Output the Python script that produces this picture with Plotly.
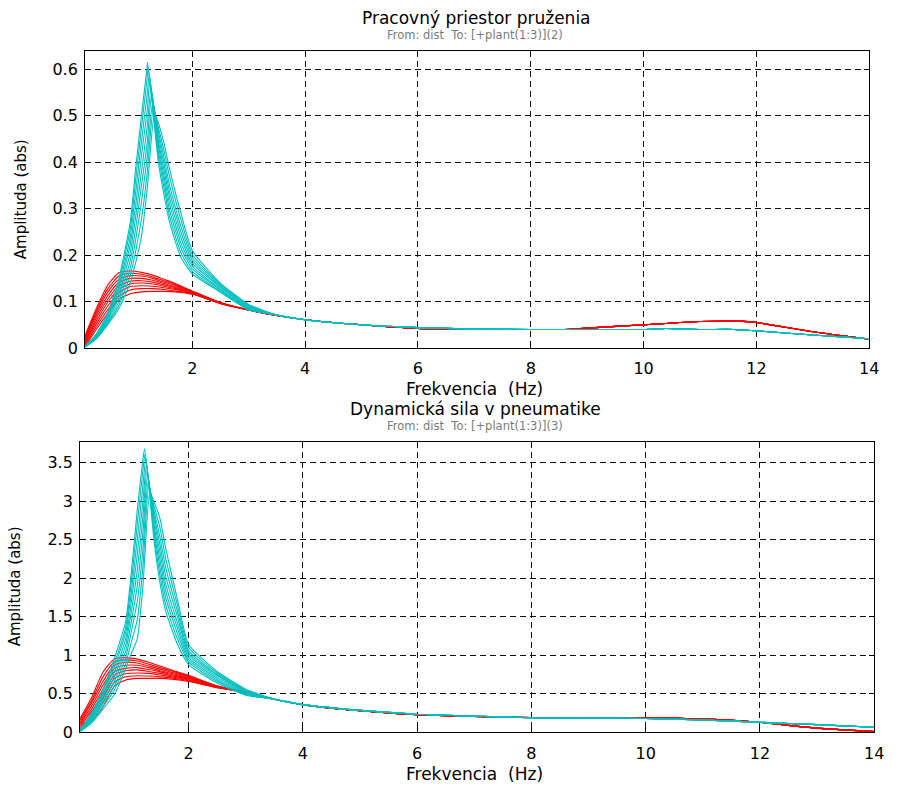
import plotly.graph_objects as go

# ---------------- frequency grids (Hz) ----------------
CYAN_HEAD_F = [0.1, 0.3, 0.5, 0.7, 0.9, 1.0, 1.1, 1.2]
CYAN_RIGHT_F = [1.4, 1.5, 1.6, 1.8, 2.0, 2.5, 3.0]
RED_HEAD_F = [0.1, 0.3, 0.5, 0.7, 0.9, 1.1, 1.3, 1.5, 1.7, 2.0, 2.5]

# ---------------- top panel: suspension working space ----------------
TOP_CYAN_PEAK_F = [1.21, 1.22, 1.24, 1.25, 1.27, 1.28, 1.30, 1.31, 1.33]
TOP_CYAN_PEAK_A = [0.615, 0.605, 0.59, 0.575, 0.56, 0.545, 0.53, 0.515, 0.505]
TOP_CYAN_HEAD = [
    [0.004, 0.030, 0.075, 0.150, 0.270, 0.390, 0.500, 0.605],
    [0.004, 0.029, 0.072, 0.142, 0.255, 0.365, 0.475, 0.580],
    [0.004, 0.028, 0.068, 0.133, 0.238, 0.338, 0.445, 0.545],
    [0.003, 0.026, 0.065, 0.125, 0.222, 0.310, 0.415, 0.510],
    [0.003, 0.025, 0.062, 0.116, 0.205, 0.285, 0.380, 0.475],
    [0.003, 0.024, 0.059, 0.108, 0.188, 0.260, 0.350, 0.440],
    [0.003, 0.023, 0.056, 0.100, 0.172, 0.235, 0.315, 0.410],
    [0.002, 0.021, 0.053, 0.092, 0.156, 0.210, 0.278, 0.375],
    [0.002, 0.020, 0.050, 0.085, 0.140, 0.185, 0.240, 0.340],
]
TOP_CYAN_RIGHT = [
    [0.400, 0.330, 0.270, 0.195, 0.160, 0.120, 0.082],
    [0.412, 0.345, 0.283, 0.205, 0.165, 0.122, 0.083],
    [0.425, 0.358, 0.296, 0.216, 0.171, 0.125, 0.085],
    [0.437, 0.370, 0.310, 0.226, 0.177, 0.127, 0.086],
    [0.447, 0.383, 0.323, 0.238, 0.183, 0.130, 0.088],
    [0.457, 0.396, 0.336, 0.250, 0.189, 0.132, 0.089],
    [0.466, 0.410, 0.350, 0.262, 0.195, 0.135, 0.091],
    [0.475, 0.425, 0.368, 0.276, 0.202, 0.137, 0.092],
    [0.485, 0.440, 0.385, 0.290, 0.210, 0.140, 0.094],
]
TOP_CYAN_TAIL_F = [3.5, 4, 5, 6, 7, 8, 9, 10, 10.4, 11, 11.6, 12, 13, 14]
TOP_CYAN_TAIL = [0.071, 0.061, 0.050, 0.044, 0.041, 0.040, 0.040, 0.040,
                 0.042, 0.040, 0.040, 0.037, 0.028, 0.020]

TOP_RED_HEAD = [
    [0.027, 0.085, 0.135, 0.162, 0.166, 0.163, 0.157, 0.148, 0.139, 0.123, 0.098],
    [0.024, 0.080, 0.127, 0.155, 0.161, 0.159, 0.153, 0.145, 0.137, 0.122, 0.098],
    [0.021, 0.075, 0.120, 0.148, 0.156, 0.155, 0.150, 0.142, 0.135, 0.121, 0.097],
    [0.018, 0.070, 0.112, 0.141, 0.150, 0.150, 0.146, 0.139, 0.132, 0.120, 0.097],
    [0.015, 0.064, 0.105, 0.134, 0.144, 0.145, 0.142, 0.136, 0.130, 0.119, 0.097],
    [0.012, 0.058, 0.098, 0.127, 0.138, 0.140, 0.138, 0.133, 0.128, 0.118, 0.096],
    [0.009, 0.052, 0.090, 0.120, 0.132, 0.134, 0.133, 0.130, 0.126, 0.118, 0.096],
    [0.006, 0.046, 0.082, 0.112, 0.125, 0.128, 0.128, 0.126, 0.123, 0.117, 0.096],
    [0.003, 0.040, 0.075, 0.104, 0.117, 0.121, 0.122, 0.122, 0.121, 0.116, 0.096],
]
TOP_RED_TAIL_F = [3.0, 3.5, 4, 5, 6, 7, 8, 8.6, 9, 10, 11, 11.7, 12, 13, 14]
TOP_RED_TAIL = [0.082, 0.070, 0.061, 0.050, 0.042, 0.040, 0.040, 0.040,
                0.043, 0.050, 0.057, 0.058, 0.055, 0.035, 0.019]

# ---------------- bottom panel: dynamic tyre force ----------------
BOT_CYAN_PEAK_F = [1.23, 1.24, 1.25, 1.26, 1.27, 1.28, 1.29, 1.30, 1.32]
BOT_CYAN_PEAK_A = [3.68, 3.62, 3.55, 3.47, 3.40, 3.32, 3.25, 3.18, 3.12]
BOT_CYAN_HEAD = [
    [0.030, 0.250, 0.560, 0.960, 1.450, 2.100, 2.880, 3.550],
    [0.028, 0.235, 0.530, 0.900, 1.370, 1.970, 2.700, 3.400],
    [0.025, 0.220, 0.500, 0.840, 1.300, 1.840, 2.500, 3.200],
    [0.023, 0.200, 0.470, 0.780, 1.220, 1.710, 2.300, 3.000],
    [0.020, 0.185, 0.430, 0.720, 1.140, 1.580, 2.100, 2.800],
    [0.018, 0.170, 0.400, 0.660, 1.060, 1.450, 1.900, 2.600],
    [0.015, 0.155, 0.370, 0.600, 0.980, 1.320, 1.700, 2.380],
    [0.013, 0.140, 0.335, 0.550, 0.900, 1.180, 1.460, 2.150],
    [0.010, 0.120, 0.300, 0.490, 0.830, 1.030, 1.210, 1.900],
]
BOT_CYAN_RIGHT = [
    [2.45, 1.93, 1.57, 1.15, 0.88, 0.64, 0.48],
    [2.53, 2.03, 1.65, 1.22, 0.91, 0.66, 0.49],
    [2.60, 2.13, 1.74, 1.29, 0.94, 0.68, 0.50],
    [2.67, 2.23, 1.83, 1.36, 0.97, 0.70, 0.51],
    [2.74, 2.33, 1.92, 1.43, 1.00, 0.72, 0.52],
    [2.80, 2.43, 2.02, 1.51, 1.03, 0.74, 0.53],
    [2.86, 2.53, 2.13, 1.58, 1.06, 0.75, 0.54],
    [2.92, 2.65, 2.25, 1.66, 1.10, 0.77, 0.55],
    [2.98, 2.77, 2.38, 1.74, 1.14, 0.79, 0.56],
]
BOT_CYAN_TAIL_F = [3.5, 4, 5, 6, 7, 8, 9, 10, 11, 12, 13, 14]
BOT_CYAN_TAIL = [0.43, 0.36, 0.285, 0.235, 0.21, 0.19, 0.185, 0.18, 0.16, 0.13, 0.10, 0.065]

BOT_RED_HEAD = [
    [0.18, 0.45, 0.78, 0.95, 0.97, 0.950, 0.910, 0.860, 0.810, 0.74, 0.600],
    [0.16, 0.41, 0.72, 0.91, 0.94, 0.925, 0.885, 0.840, 0.795, 0.73, 0.600],
    [0.14, 0.38, 0.66, 0.87, 0.91, 0.900, 0.860, 0.820, 0.780, 0.72, 0.600],
    [0.12, 0.34, 0.61, 0.83, 0.87, 0.870, 0.840, 0.800, 0.765, 0.71, 0.595],
    [0.10, 0.30, 0.56, 0.79, 0.83, 0.840, 0.815, 0.785, 0.750, 0.70, 0.590],
    [0.08, 0.27, 0.50, 0.74, 0.80, 0.810, 0.790, 0.765, 0.735, 0.69, 0.590],
    [0.06, 0.23, 0.45, 0.70, 0.76, 0.770, 0.765, 0.745, 0.720, 0.68, 0.585],
    [0.04, 0.19, 0.39, 0.65, 0.72, 0.735, 0.730, 0.720, 0.705, 0.67, 0.580],
    [0.02, 0.15, 0.33, 0.60, 0.68, 0.700, 0.700, 0.700, 0.690, 0.66, 0.580],
]
BOT_RED_TAIL_F = [3.0, 3.5, 4, 5, 6, 7, 8, 9, 10, 11, 12, 12.5, 13, 14]
BOT_RED_TAIL = [0.52, 0.43, 0.36, 0.28, 0.228, 0.205, 0.192, 0.19, 0.19, 0.175,
                0.13, 0.09, 0.055, 0.01]

# ---------------- axis ticks ----------------
X_TICKS = [2, 4, 6, 8, 10, 12, 14]
TOP_Y_TICKS = [0, 0.1, 0.2, 0.3, 0.4, 0.5, 0.6]
TOP_Y_LABELS = ["0", "0.1", "0.2", "0.3", "0.4", "0.5", "0.6"]
BOT_Y_TICKS = [0, 0.5, 1, 1.5, 2, 2.5, 3, 3.5]
BOT_Y_LABELS = ["0", "0.5", "1", "1.5", "2", "2.5", "3", "3.5"]

RED = "#FF0000"
CYAN = "#00BFBF"
W, H = 898, 791
FONT = "DejaVu Sans"

fig = go.Figure()


def add_red(head, tail_f, tail, xa, ya):
    for row in head:
        fig.add_trace(go.Scatter(
            x=RED_HEAD_F + tail_f, y=row + tail, mode="lines",
            line=dict(color=RED, width=1.1, shape="spline", smoothing=0.6),
            xaxis=xa, yaxis=ya, showlegend=False, hoverinfo="skip"))


def add_cyan(head, pf, pa, right, tail_f, tail, xa, ya):
    for h, f, a, r in zip(head, pf, pa, right):
        fig.add_trace(go.Scatter(
            x=CYAN_HEAD_F + [f] + CYAN_RIGHT_F + tail_f,
            y=h + [a] + r + tail, mode="lines",
            line=dict(color=CYAN, width=1.1, shape="spline", smoothing=0.5),
            xaxis=xa, yaxis=ya, showlegend=False, hoverinfo="skip"))


add_red(TOP_RED_HEAD, TOP_RED_TAIL_F, TOP_RED_TAIL, "x", "y")
add_cyan(TOP_CYAN_HEAD, TOP_CYAN_PEAK_F, TOP_CYAN_PEAK_A, TOP_CYAN_RIGHT,
         TOP_CYAN_TAIL_F, TOP_CYAN_TAIL, "x", "y")
add_red(BOT_RED_HEAD, BOT_RED_TAIL_F, BOT_RED_TAIL, "x2", "y2")
add_cyan(BOT_CYAN_HEAD, BOT_CYAN_PEAK_F, BOT_CYAN_PEAK_A, BOT_CYAN_RIGHT,
         BOT_CYAN_TAIL_F, BOT_CYAN_TAIL, "x2", "y2")


def px(x):
    return x / W


def py(y):
    return 1 - y / H


axis_common = dict(
    showline=True, linecolor="black", linewidth=1, mirror="ticks",
    ticks="inside", ticklen=5, tickcolor="black",
    showgrid=True, gridcolor="#111111", gridwidth=1, griddash="6px,4px",
    zeroline=False, tickfont=dict(family=FONT, size=16, color="black"),
)

fig.update_layout(
    width=W, height=H, autosize=False,
    margin=dict(l=0, r=0, t=0, b=0),
    paper_bgcolor="white", plot_bgcolor="white",
    xaxis=dict(domain=[px(86), px(879)], range=[0.1, 14], tickvals=X_TICKS,
               anchor="y", ticklabelstandoff=6, **axis_common),
    yaxis=dict(domain=[py(352.5), py(52)], range=[0, 0.639],
               tickvals=TOP_Y_TICKS, ticktext=TOP_Y_LABELS, anchor="x",
               ticklabelstandoff=3, **axis_common),
    xaxis2=dict(domain=[px(81), px(884)], range=[0.1, 14], tickvals=X_TICKS,
                anchor="y2", ticklabelstandoff=6, **axis_common),
    yaxis2=dict(domain=[py(741.7), py(447.5)], range=[0, 3.77],
                tickvals=BOT_Y_TICKS, ticktext=BOT_Y_LABELS, anchor="x2",
                ticklabelstandoff=3, **axis_common),
)

ann = []


def label(text, x, y, size, color="black", angle=0):
    ann.append(dict(text=text, x=px(x), y=py(y), xref="paper", yref="paper",
                    xanchor="center", yanchor="middle", showarrow=False,
                    textangle=angle,
                    font=dict(family=FONT, size=size, color=color)))


label("Pracovný priestor pruženia", 482, 18, 17)
label("From: dist  To: [+plant(1:3)](2)", 480, 35, 11.5, "#7a7a7a")
label("Frekvencia  (Hz)", 480, 394, 17)
label("Amplituda (abs)", 22, 202, 15, angle=-90)

label("Dynamická sila v pneumatike", 481, 414, 17)
label("From: dist  To: [+plant(1:3)](3)", 480, 431, 11.5, "#7a7a7a")
label("Frekvencia  (Hz)", 480, 784, 17)
label("Amplituda (abs)", 16, 594, 15, angle=-90)

fig.update_layout(annotations=ann)

fig.write_html("out.html")
